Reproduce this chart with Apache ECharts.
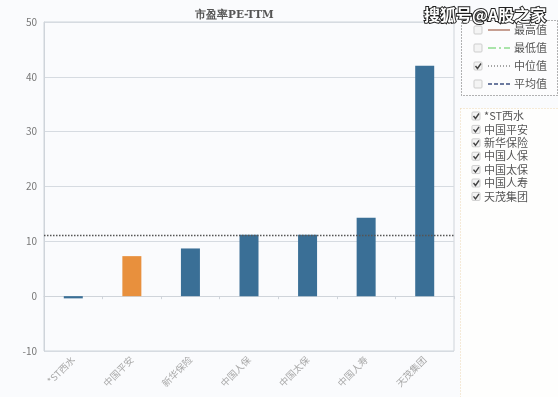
<!DOCTYPE html>
<html><head><meta charset="utf-8">
<script src="https://cdn.jsdelivr.net/npm/echarts@6/dist/echarts.min.js"></script>
<style>html,body{margin:0;padding:0;background:#fafbfd}#c{width:558px;height:397px}</style>
</head><body><div id="c"></div>
<script>
const categories = ['*ST西水','中国平安','新华保险','中国人保','中国太保','中国人寿','天茂集团'];
const peValues = [-0.4, 7.3, 8.7, 11.2, 11.2, 14.3, 42.0];
const highlightIndex = 1;
const yMin = -10, yMax = 50, yInterval = 10;
const refLineNames = ['最高值','最低值','中位值','平均值'];
const refLineChecked = [false, false, true, false];
const titleText = '市盈率PE-TTM';
const watermarkText = '搜狐号@A股之家';

const sorted = peValues.slice().sort((a,b)=>a-b);
const medianVal = sorted[Math.floor(sorted.length/2)];

const chart = echarts.init(document.getElementById('c'), null, {renderer:'canvas'});
const FONT = '"Noto Sans CJK SC", sans-serif';

function checkbox(x, y, checked) {
  const els = [{
    type:'rect', shape:{x:x, y:y, width:8, height:8, r:1},
    style:{fill:'#f4f4f4', stroke:'#cdcdcd', lineWidth:1}
  }];
  if (checked) {
    els.push({type:'polyline', shape:{points:[[x+1.5,y+4],[x+3.5,y+6.5],[x+7,y+1.5]]},
      style:{stroke:'#444', lineWidth:1.4, fill:null}});
  }
  return els;
}

const graphics = [];
// box 1
graphics.push({type:'rect', shape:{x:461.5, y:20.5, width:96, height:75},
  style:{fill:'#fcfcfd', stroke:'#666', lineWidth:1, lineDash:[1,2]}});
const lineStyles = [
  {stroke:'#b5806e', lineDash:null},
  {stroke:'#8fdc8f', lineDash:[8,3,2,3]},
  {stroke:'#888', lineDash:[1,2]},
  {stroke:'#3d4f80', lineDash:[4,2]}
];
refLineNames.forEach((n,i)=>{
  const cy = 30 + i*18;
  checkbox(474, cy-4, refLineChecked[i]).forEach(e=>graphics.push(e));
  graphics.push({type:'line', shape:{x1:488, y1:cy, x2:510, y2:cy},
    style:Object.assign({lineWidth:1.5}, lineStyles[i])});
  graphics.push({type:'text', x:514, y:cy, style:{text:n, fill:'#555', font:'11px '+FONT, textVerticalAlign:'middle'}});
});
// box 2
graphics.push({type:'rect', shape:{x:460.5, y:108.5, width:98, height:300},
  style:{fill:'#fefefd', stroke:'#efd9b0', lineWidth:1, lineDash:[1,2]}});
categories.forEach((n,i)=>{
  const cy = 116 + i*13.4;
  checkbox(472, cy-4, true).forEach(e=>graphics.push(e));
  graphics.push({type:'text', x:484, y:cy, style:{text:n, fill:'#555', font:'11px '+FONT, textVerticalAlign:'middle'}});
});
// watermark
graphics.push({type:'text', x:424, y:15, z:100, style:{text:watermarkText, fill:'#fff', stroke:'#222', lineWidth:2,
  font:'bold 16px '+FONT, textVerticalAlign:'middle'}});

chart.setOption({
  backgroundColor:'#fafbfd',
  animation:false,
  title:{text:titleText, left:190, top:5, textStyle:{fontSize:10.5, fontWeight:'bold', color:'#555', fontFamily:'"DejaVu Serif", serif'}},
  grid:{left:44, right:104, top:22, bottom:46, show:true, borderColor:'#cfd4da', borderWidth:1, containLabel:false},
  xAxis:{type:'category', data:categories,
    axisLine:{lineStyle:{color:'#cfd4da'}},
    axisTick:{show:true, lineStyle:{color:'#cfd4da'}, length:3},
    axisLabel:{rotate:45, color:'#a8a8a8', fontSize:9.5, fontFamily:FONT, margin:7}},
  yAxis:{type:'value', min:yMin, max:yMax, interval:yInterval,
    axisLine:{show:true, lineStyle:{color:'#cfd4da'}},
    axisTick:{show:false},
    splitLine:{lineStyle:{color:'#d6dbe1'}},
    axisLabel:{color:'#777', fontSize:10, margin:7, fontFamily:FONT}},
  series:[{type:'bar', barWidth:19,
    data:peValues.map((v,i)=>({value:v, itemStyle:{color: i===highlightIndex ? '#e8903d' : '#3a6f96'}})),
    markLine:{symbol:'none', silent:true, label:{show:false},
      lineStyle:{type:[1.5,1.5], color:'#555', width:1.3},
      data:[{yAxis:medianVal}]}
  }],
  graphic:graphics
});
</script></body></html>
